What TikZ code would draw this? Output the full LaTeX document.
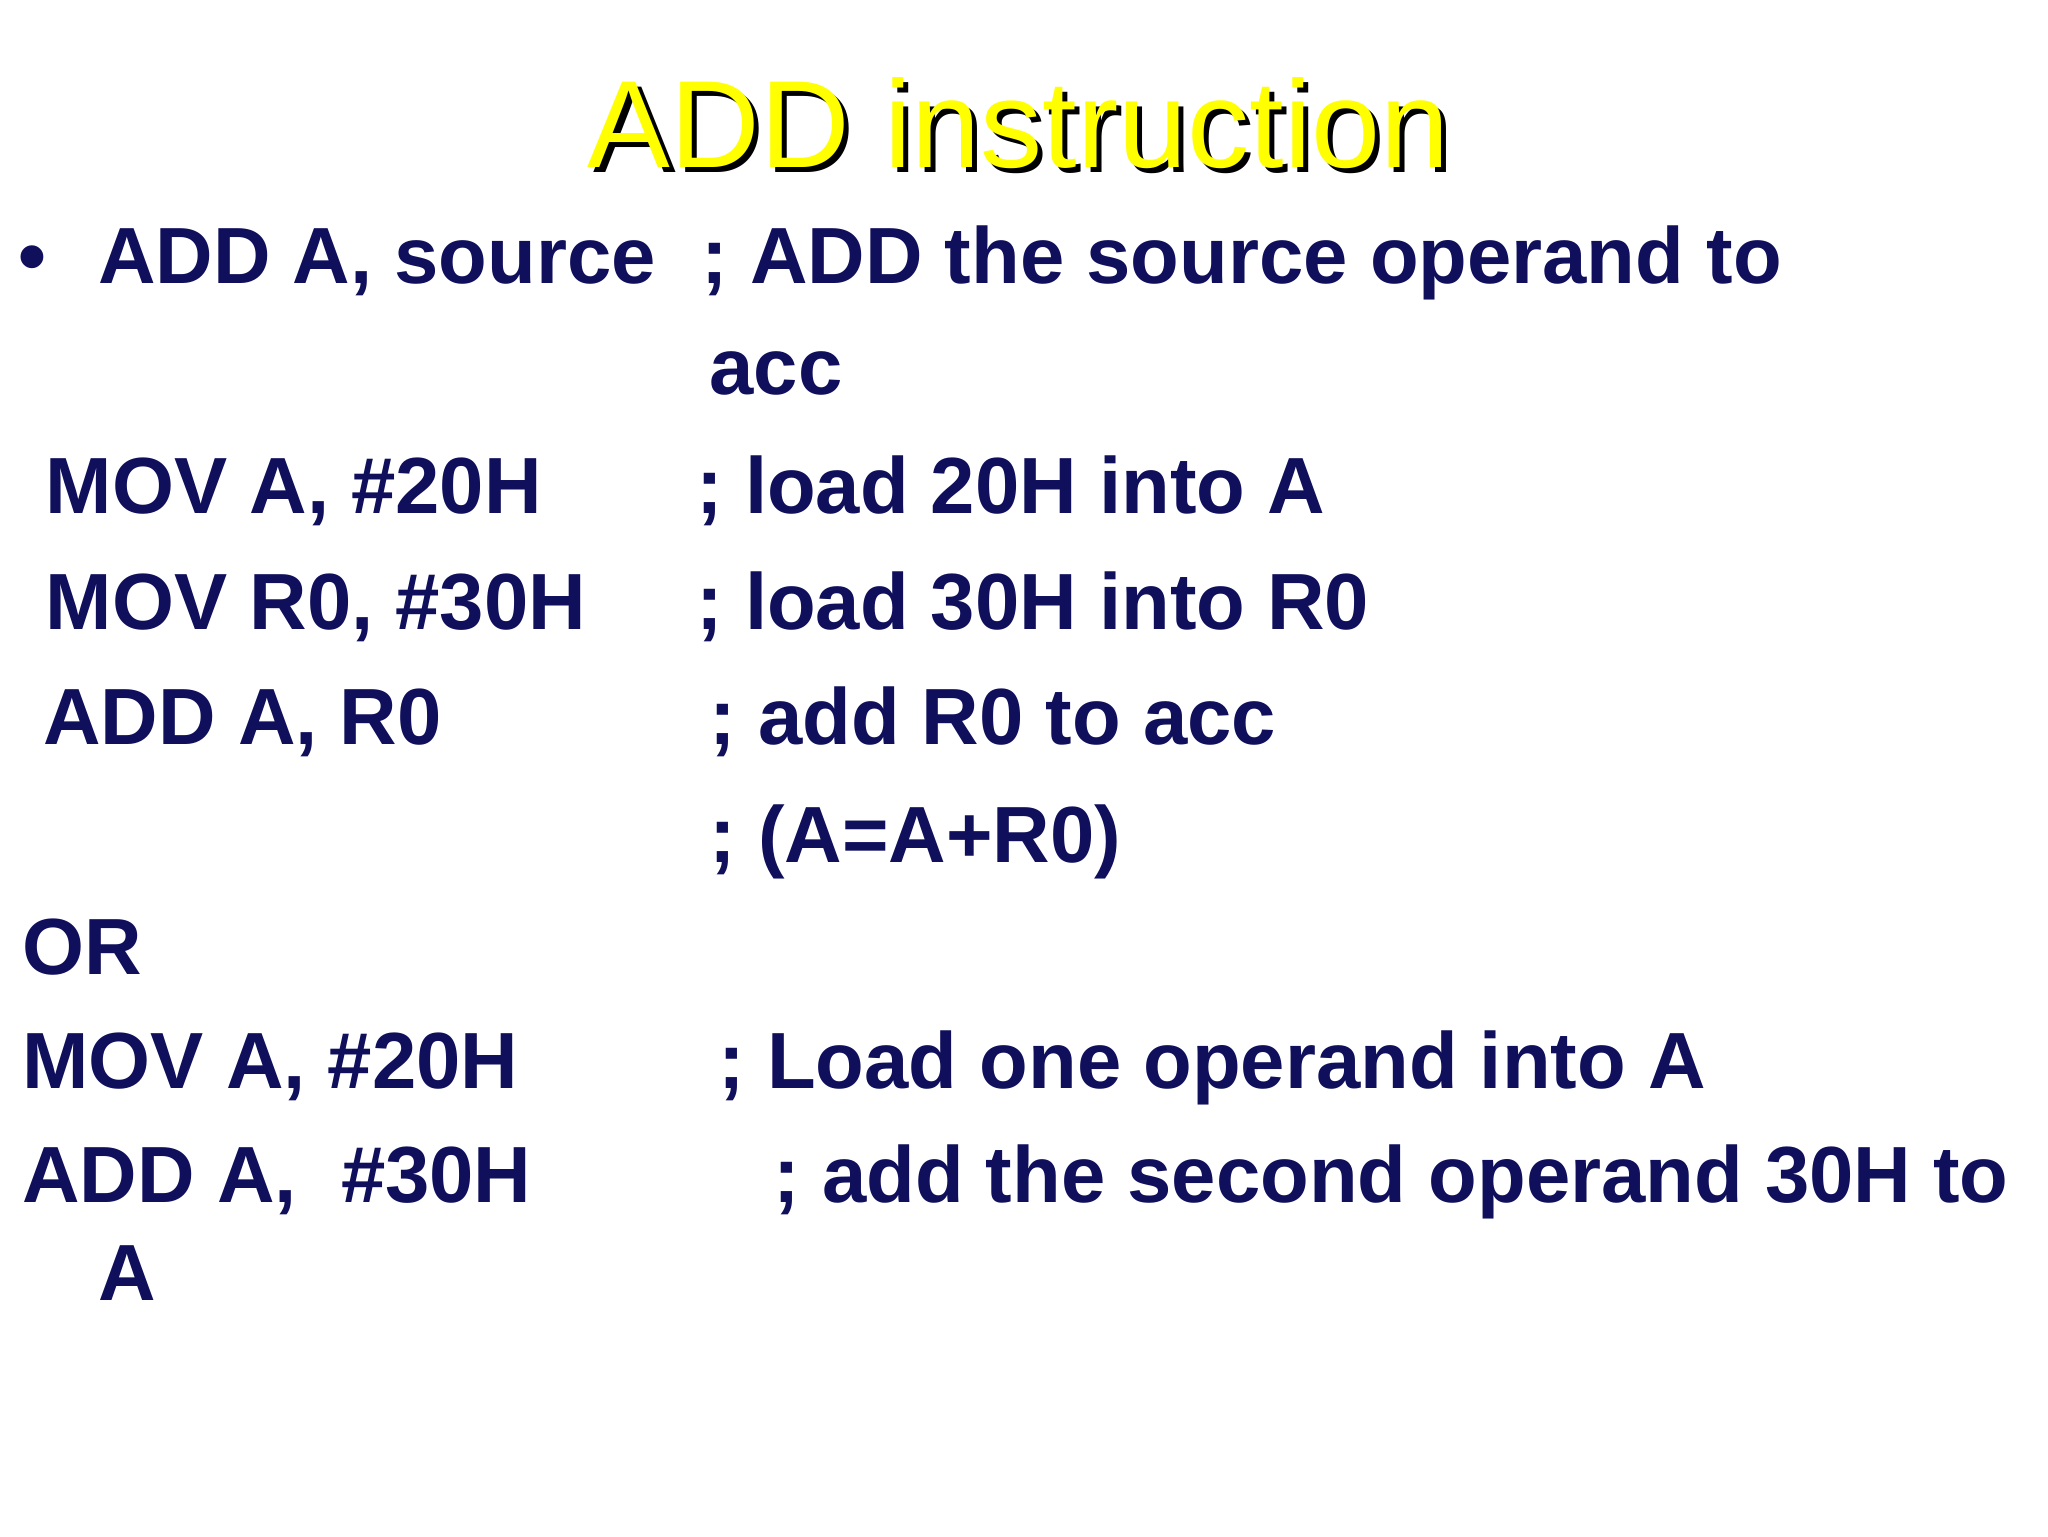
\documentclass[tikz,border=0pt]{standalone}
\usepackage{fontspec}
\setmainfont{Liberation Sans}
\definecolor{navy}{HTML}{0F0F5C}
\definecolor{ttl}{HTML}{FFFF00}
\begin{document}
\begin{tikzpicture}[x=1pt,y=1pt,
  txt/.style={anchor=base west,inner sep=0pt,text=navy,font=\fontsize{61}{70}\selectfont\bfseries},
  ttlf/.style={anchor=base,inner sep=0pt,font=\fontsize{95}{100}\selectfont}]
\useasboundingbox[fill=white] (0,0) rectangle (1568,1176);
\node[ttlf,text=black] (tsh) at (784,1044) {ADD instruction};
\node[ttlf,text=ttl] (t) at (780,1048) {ADD instruction};
\node[txt] (b) at (14,959) {\textbullet};
\node[txt] (l1) at (75,959) {ADD A, source};
\node[txt] (c1) at (537,959) {; ADD the source operand to};
\node[txt] (c1b) at (543,874) {acc};
\node[txt] (l2) at (35,783) {MOV A, \#20H};
\node[txt] (c2) at (533,783) {; load 20H into A};
\node[txt] (l3) at (35,694) {MOV R0, \#30H};
\node[txt] (c3) at (533,694) {; load 30H into R0};
\node[txt] (l4) at (33,606) {ADD A, R0};
\node[txt] (c4) at (543,606) {; add R0 to acc};
\node[txt] (c5) at (543,516) {; (A=A+R0)};
\node[txt] (or) at (17,430) {OR};
\node[txt] (l6) at (17,343) {MOV A, \#20H};
\node[txt] (c6) at (550,343) {; Load one operand into A};
\node[txt] (l7) at (17,255) {ADD A,\ \ \#30H};
\node[txt] (c7) at (592,255) {; add the second operand 30H to};
\node[txt] (c7b) at (75,180) {A};
\end{tikzpicture}
\end{document}
